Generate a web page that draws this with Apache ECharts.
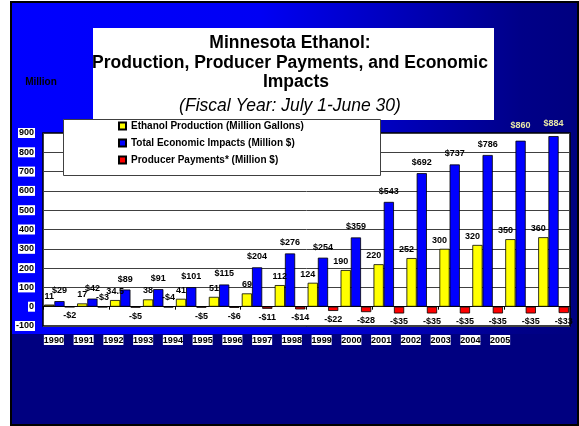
<!DOCTYPE html>
<html><head><meta charset="utf-8">
<script src="https://cdn.jsdelivr.net/npm/echarts@6/dist/echarts.min.js"></script>
<style>html,body{margin:0;padding:0;background:#fff}#c{width:579px;height:426px}</style>
</head><body><div id="c"></div>
<script>
const years = ['1990','1991','1992','1993','1994','1995','1996','1997','1998','1999','2000','2001','2002','2003','2004','2005'];
const production = [11,17,34.5,38,41,51,69,112,124,190,220,252,300,320,350,360];
const impacts = [29,42,89,91,101,115,204,276,254,359,543,692,737,786,860,884];
const payments = [-2,-3,-5,-4,-5,-6,-11,-14,-22,-28,-35,-35,-35,-35,-35,-33];
const seriesNames = ['Ethanol Production (Million Gallons)','Total Economic Impacts (Million $)','Producer Payments* (Million $)'];
const titleLines = ['Minnesota Ethanol:','Production, Producer Payments, and Economic','Impacts'];
const subTitle = '(Fiscal Year: July 1-June 30)';
const yUnit = 'Million';

const FF = 'Arial, "Liberation Sans", sans-serif';
const chart = echarts.init(document.getElementById('c'));

const lblBase = {show:true, fontSize:9, fontWeight:'bold', color:'#000', fontFamily:FF};

const yellowData = production.map((v,i)=>{
  const o = {value:v, label:{offset:[i>=8?-5:0,0]}};
  if(i===0) o.itemStyle = {color:'#808000'};
  return o;
});
const blueData = impacts.map((v,i)=>{
  const o = {value:v};
  if(i===14) o.label = {color:'#E8E8A8', distance:11};
  if(i===15) o.label = {color:'#E8E8A8', distance:8};
  return o;
});
const redData = payments.map((v,i)=>{
  const o = {value:v};
  if(i===1 || i===3) o.label = {position:'top', distance:5};
  return o;
});

const option = {
  animation:false,
  graphic:[
    {type:'rect', z:-20, shape:{x:11,y:2,width:567,height:423}, style:{fill:'#000080', stroke:'#000', lineWidth:2}},
    {type:'rect', z:-19, shape:{x:12,y:3,width:565,height:331}, style:{fill:new echarts.graphic.LinearGradient(0,0,1,0,[
      {offset:0,color:'#0000ff'},{offset:0.44,color:'#0000f4'},{offset:0.9,color:'#000088'},{offset:1,color:'#000080'}])}},
    {type:'rect', z:5, shape:{x:93,y:28,width:401,height:92}, style:{fill:'#fff'}},
    {type:'text', z:6, x:290, y:43, style:{text:titleLines[0], font:'bold 17.5px '+FF, fill:'#000', align:'center', verticalAlign:'middle'}},
    {type:'text', z:6, x:290, y:63, style:{text:titleLines[1], font:'bold 17.5px '+FF, fill:'#000', align:'center', verticalAlign:'middle'}},
    {type:'text', z:6, x:296, y:82, style:{text:titleLines[2], font:'bold 17.5px '+FF, fill:'#000', align:'center', verticalAlign:'middle'}},
    {type:'text', z:6, x:290, y:106, style:{text:subTitle, font:'italic 17.5px '+FF, fill:'#000', align:'center', verticalAlign:'middle'}},
    {type:'text', z:6, x:41, y:82, style:{text:yUnit, font:'bold 10px '+FF, fill:'#000', align:'center', verticalAlign:'middle'}},
    {type:'rect', z:10, shape:{x:63.5,y:119.5,width:317,height:56}, style:{fill:'#fff', stroke:'#404040', lineWidth:1}}
  ],
  legend:{
    show:true, orient:'vertical', left:118, top:121, padding:0, z:20,
    itemWidth:7, itemHeight:7, itemGap:7, icon:'rect',
    textStyle:{fontSize:10, fontWeight:'bold', color:'#000', fontFamily:FF},
    data:seriesNames
  },
  grid:[
    {left:43, right:9, top:133, bottom:100, show:true, backgroundColor:'#fff', borderColor:'#000', borderWidth:1.5},
    {left:39, width:476, top:331, height:1, show:false}
  ],
  xAxis:[
    {type:'category', data:years, gridIndex:0,
      axisLine:{onZero:true, lineStyle:{color:'#000', width:1.2}},
      axisTick:{show:true, length:3, lineStyle:{color:'#000'}},
      axisLabel:{show:false}, splitLine:{show:false}},
    {type:'category', data:years, gridIndex:1,
      axisLine:{show:false}, axisTick:{show:false}, splitLine:{show:false},
      axisLabel:{show:true, margin:3, fontSize:9, fontWeight:'bold', color:'#000', fontFamily:FF, backgroundColor:'#fff', padding:[1,0,0,0]}}
  ],
  yAxis:[
    {type:'value', gridIndex:0, min:-100, max:900, interval:100,
      axisLine:{show:false}, axisTick:{show:false},
      splitLine:{show:true, lineStyle:{color:'#404040', width:1}},
      axisLabel:{margin:8, fontSize:9, fontWeight:'bold', color:'#000', fontFamily:FF, backgroundColor:'#fff', padding:[1,1,0,1]}},
    {type:'value', gridIndex:1, show:false, min:0, max:1}
  ],
  series:[
    {name:seriesNames[0], type:'bar', xAxisIndex:0, yAxisIndex:0, data:yellowData, barGap:'0%', barCategoryGap:'7%',
      itemStyle:{color:'#ffff00', borderColor:'#000', borderWidth:0.8},
      label:Object.assign({}, lblBase, {position:'top', distance:4})},
    {name:seriesNames[1], type:'bar', xAxisIndex:0, yAxisIndex:0, data:blueData, barGap:'0%', barCategoryGap:'7%',
      itemStyle:{color:'#0000ff', borderColor:'#000', borderWidth:0.8},
      label:Object.assign({}, lblBase, {position:'top', distance:6, formatter:p=>'$'+p.value})},
    {name:seriesNames[2], type:'bar', xAxisIndex:0, yAxisIndex:0, data:redData, barGap:'0%', barCategoryGap:'7%',
      itemStyle:{color:'#ff0000', borderColor:'#000', borderWidth:0.8},
      label:Object.assign({}, lblBase, {position:'bottom', distance:4, formatter:p=>'-$'+Math.abs(p.value)})}
  ]
};
chart.setOption(option);
</script>
</body></html>
